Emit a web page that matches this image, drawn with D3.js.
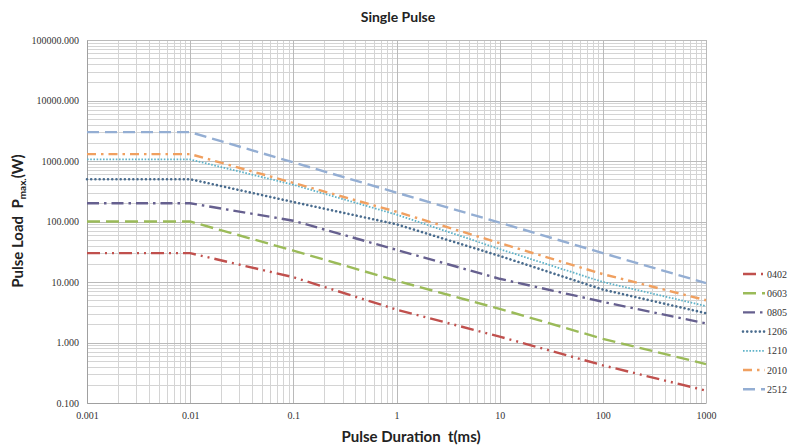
<!DOCTYPE html>
<html>
<head>
<meta charset="utf-8">
<script src="https://cdn.jsdelivr.net/npm/d3@7"></script>
<style>
  html, body { margin: 0; padding: 0; background: #fff; }
  svg { display: block; }
</style>
</head>
<body>
<svg id="chart" width="795" height="448"></svg>
<script>
// Pulse durations (ms) at which the curves are sampled
const durations = [0.001, 0.01, 0.1, 1, 10, 100, 1000];

// Maximum pulse load (W) per case size
const series0402 = [30, 30, 12, 3.5, 1.25, 0.42, 0.16];
const series0603 = [100, 100, 33, 10.5, 3.6, 1.15, 0.44];
const series0805 = [200, 200, 103, 34, 11.3, 4.7, 2.07];
const series1206 = [500, 500, 210, 90, 27, 7.5, 3.05];
const series1210 = [1060, 1060, 405, 130, 35, 10, 4.0];
const series2010 = [1300, 1300, 435, 145, 44, 13.5, 5.0];
const series2512 = [3000, 3000, 950, 300, 96, 30, 9.6];

const seriesNames = ["0402", "0603", "0805", "1206", "1210", "2010", "2512"];
const seriesValues = [series0402, series0603, series0805, series1206, series1210, series2010, series2512];

const xTicks = [0.001, 0.01, 0.1, 1, 10, 100, 1000];
const yTicks = [0.1, 1, 10, 100, 1000, 10000, 100000];

// Line styling per series (colour, dash pattern, cap)
const styles = {
  "0402": { color: "#c0504d", dash: "13 5 2 5 2 5", cap: "butt", width: 2.4 },
  "0603": { color: "#9bbb59", dash: "13 6", cap: "butt", width: 2.4 },
  "0805": { color: "#66608f", dash: "12 5 2.5 5", cap: "butt", width: 2.4 },
  "1206": { color: "#4a6c8e", dash: "0.01 4.2", cap: "round", width: 2.6 },
  "1210": { color: "#5fb3c9", dash: "1.6 1.6", cap: "butt", width: 1.8 },
  "2010": { color: "#f0a060", dash: "9 5 2.5 5", cap: "butt", width: 2.4 },
  "2512": { color: "#94aed3", dash: "12 6", cap: "butt", width: 2.4 }
};

const svg = d3.select("#chart");
const plot = { left: 87, right: 706, top: 40, bottom: 403 };

const x = d3.scaleLog().domain([0.001, 1000]).range([plot.left, plot.right]);
const y = d3.scaleLog().domain([0.1, 100000]).range([plot.bottom, plot.top]);

// Minor and major grid values per decade
const minorX = [], minorY = [];
for (let e = -3; e < 3; e++) for (let m = 2; m <= 9; m++) minorX.push(m * Math.pow(10, e));
for (let e = -1; e < 5; e++) for (let m = 2; m <= 9; m++) minorY.push(m * Math.pow(10, e));

const grid = svg.append("g").attr("shape-rendering", "crispEdges");
grid.selectAll(".mx").data(minorX).join("line")
  .attr("x1", d => Math.round(x(d)) + 0.5).attr("x2", d => Math.round(x(d)) + 0.5)
  .attr("y1", plot.top).attr("y2", plot.bottom)
  .attr("stroke", "#d4d4d4").attr("stroke-width", 1);
grid.selectAll(".my").data(minorY).join("line")
  .attr("y1", d => Math.round(y(d)) + 0.5).attr("y2", d => Math.round(y(d)) + 0.5)
  .attr("x1", plot.left).attr("x2", plot.right)
  .attr("stroke", "#d4d4d4").attr("stroke-width", 1);
grid.selectAll(".Mx").data(xTicks).join("line")
  .attr("x1", d => Math.round(x(d)) + 0.5).attr("x2", d => Math.round(x(d)) + 0.5)
  .attr("y1", plot.top).attr("y2", plot.bottom)
  .attr("stroke", "#bababa").attr("stroke-width", 1);
grid.selectAll(".My").data(yTicks).join("line")
  .attr("y1", d => Math.round(y(d)) + 0.5).attr("y2", d => Math.round(y(d)) + 0.5)
  .attr("x1", plot.left).attr("x2", plot.right)
  .attr("stroke", "#bababa").attr("stroke-width", 1);

// Axes
const fmtY = d3.format(".3f");
const fmtX = d => String(+d.toPrecision(3));

const xAxis = svg.append("g")
  .attr("transform", `translate(0,${plot.bottom})`)
  .call(d3.axisBottom(x).tickValues(xTicks).tickFormat(fmtX).tickSize(0).tickPadding(9));
xAxis.select(".domain").attr("stroke", "#a0a0a0");
xAxis.selectAll("text").attr("font-family", "Liberation Serif").attr("font-size", 10).attr("fill", "#333");

const yAxis = svg.append("g")
  .attr("transform", `translate(${plot.left},0)`)
  .call(d3.axisLeft(y).tickValues(yTicks).tickFormat(fmtY).tickSize(0).tickPadding(8));
yAxis.select(".domain").attr("stroke", "#a0a0a0");
yAxis.selectAll("text").attr("font-family", "Liberation Serif").attr("font-size", 10).attr("fill", "#333");

// Series lines
const line = d3.line().x((d, i) => x(durations[i])).y(d => y(d));
svg.append("g").selectAll("path").data(seriesNames).join("path")
  .attr("d", (name, i) => line(seriesValues[i]))
  .attr("fill", "none")
  .attr("stroke", n => styles[n].color)
  .attr("stroke-width", n => styles[n].width)
  .attr("stroke-dasharray", n => styles[n].dash)
  .attr("stroke-linecap", n => styles[n].cap);

// Legend
const legend = svg.append("g").attr("transform", "translate(743,274)");
const item = legend.selectAll("g").data(seriesNames).join("g")
  .attr("transform", (d, i) => `translate(0,${i * 19.2})`);
item.append("line")
  .attr("x1", 0).attr("x2", 22).attr("y1", 0).attr("y2", 0)
  .attr("stroke", n => styles[n].color)
  .attr("stroke-width", n => styles[n].width)
  .attr("stroke-dasharray", n => styles[n].dash)
  .attr("stroke-linecap", n => styles[n].cap);
item.append("text")
  .attr("x", 24).attr("y", 0).attr("dy", "0.35em")
  .attr("font-family", "Liberation Serif").attr("font-size", 10).attr("fill", "#333")
  .text(d => d);

// Titles
svg.append("text")
  .attr("x", 398).attr("y", 22).attr("text-anchor", "middle")
  .attr("font-family", "Lato").attr("font-weight", "bold").attr("font-size", 14).attr("fill", "#222")
  .text("Single Pulse");

svg.append("text")
  .attr("x", 411).attr("y", 442).attr("text-anchor", "middle")
  .attr("font-family", "Lato").attr("font-weight", "bold").attr("font-size", 15).attr("fill", "#222")
  .attr("xml:space", "preserve")
  .text("Pulse Duration  t(ms)");

const yTitle = svg.append("text")
  .attr("transform", "translate(23,221) rotate(-90)")
  .attr("text-anchor", "middle")
  .attr("font-family", "Lato").attr("font-weight", "bold").attr("font-size", 15).attr("fill", "#222")
  .attr("xml:space", "preserve");
yTitle.append("tspan").text("Pulse Load  P");
yTitle.append("tspan").attr("font-size", 10).attr("dy", 3).text("max.");
yTitle.append("tspan").attr("dy", -3).text("(W)");
</script>
</body>
</html>
